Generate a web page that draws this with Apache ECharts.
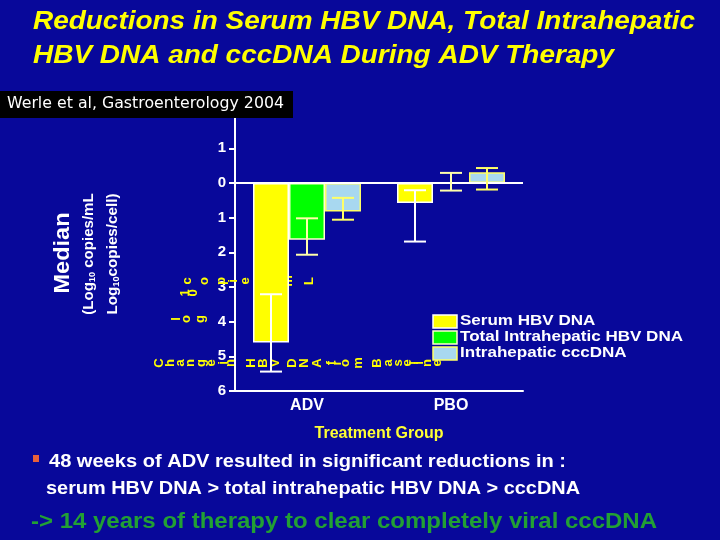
<!DOCTYPE html>
<html>
<head>
<meta charset="utf-8">
<script src="https://cdn.jsdelivr.net/npm/echarts@6/dist/echarts.min.js"></script>
<style>
html,body{margin:0;padding:0;background:#08089a;}
#chart{width:720px;height:540px;}
</style>
</head>
<body>
<div id="chart"></div>
<script>
// ---------- data ----------
const categories = ['ADV', 'PBO'];
const seriesNames = ['Serum HBV DNA', 'Total Intrahepatic HBV DNA', 'Intrahepatic cccDNA'];
const serumMedian = [-4.6, -0.58];
const serumLow = [-5.44, -1.69];
const serumHigh = [-3.21, -0.21];
const totalMedian = [-1.64, 0];
const totalLow = [-2.07, -0.22];
const totalHigh = [-1.02, 0.29];
const cccMedian = [-0.82, 0.31];
const cccLow = [-1.06, -0.19];
const cccHigh = [-0.43, 0.43];
const yMin = -6, yMax = 2, yStep = 1;

const titleLines = ['Reductions in Serum HBV DNA, Total Intrahepatic', 'HBV DNA and cccDNA During ADV Therapy'];
const citation = 'Werle et al, Gastroenterology 2004';
const bullet1 = '48 weeks of ADV resulted in significant reductions in :';
const bullet2 = 'serum HBV DNA > total intrahepatic HBV DNA > cccDNA';
const conclusion = '-> 14 years of therapy to clear completely viral cccDNA';

// ---------- styles ----------
const BG = '#08089a';
const FAM = '"Liberation Sans", Arial, sans-serif';
const barColors = ['#ffff00', '#00ff00', '#a8d8f0'];
const barBorders = ['#ffffff', '#ffffcc', '#ffff66'];
const errColors = ['#ffffff', '#ffffaa', '#ffff66'];
const BAR_W = 36;

const cv = document.createElement('canvas').getContext('2d');
function measure(text, font) { cv.font = font; return cv.measureText(text).width; }
function fitText(text, x, xEnd, yc, size, weight, style, family, color, z) {
  const font = style + ' ' + weight + ' ' + size + 'px ' + family;
  const w = measure(text, font);
  return { type: 'text', x: x, y: yc, scaleX: (xEnd - x) / w, z: z || 10,
    style: { text: text, font: font, fill: color, align: 'left', verticalAlign: 'middle' } };
}
function rotFit(text, xc, yc, len, size) {
  const font = 'bold ' + size + 'px ' + FAM;
  const w = measure(text, font);
  return { type: 'text', x: xc, y: yc, rotation: Math.PI / 2, scaleX: len / w, z: 10,
    style: { text: text, font: font, fill: '#ffffff', align: 'center', verticalAlign: 'middle' } };
}
// broken rotated-glyph annotation text
function rotChars(text, x0, x1, yc, size) {
  const font = 'bold ' + size + 'px ' + FAM;
  const widths = Array.from(text).map(ch => measure(ch, font));
  const total = widths.reduce((a, b) => a + b, 0);
  const k = (x1 - x0) / total;
  let pos = x0;
  const els = [];
  Array.from(text).forEach((ch, i) => {
    const adv = widths[i] * k;
    if (ch !== ' ') {
      els.push({ type: 'text', x: pos + adv / 2, y: yc, rotation: Math.PI / 2, z: 1,
        style: { text: ch, font: font, fill: '#ffff00', align: 'center', verticalAlign: 'middle' } });
    }
    pos += adv;
  });
  return els;
}

function errData(lo, hi) { return categories.map((c, i) => [i, lo[i], hi[i]]); }
function errSeries(idx, lo, hi) {
  return {
    type: 'custom', name: 'err' + idx, z: 5, silent: true,
    data: errData(lo, hi),
    encode: { x: 0, y: [1, 2] },
    renderItem: function (params, api) {
      const c = api.value(0);
      const p1 = api.coord([c, api.value(1)]);
      const p2 = api.coord([c, api.value(2)]);
      const x = p1[0] + (idx - 1) * BAR_W;
      const cap = 11;
      const st = { stroke: errColors[idx], lineWidth: 2 };
      return { type: 'group', children: [
        { type: 'line', shape: { x1: x, y1: p1[1], x2: x, y2: p2[1] }, style: st },
        { type: 'line', shape: { x1: x - cap, y1: p1[1], x2: x + cap, y2: p1[1] }, style: st },
        { type: 'line', shape: { x1: x - cap, y1: p2[1], x2: x + cap, y2: p2[1] }, style: st }
      ] };
    }
  };
}
function barSeries(idx, data) {
  return {
    type: 'bar', name: seriesNames[idx], data: data, barWidth: BAR_W, barGap: '0%', z: 3,
    itemStyle: { color: barColors[idx], borderColor: barBorders[idx], borderWidth: 1.5 }
  };
}

const graphics = [];
graphics.push(fitText(titleLines[0], 33, 695, 22, 26, 'bold', 'italic', FAM, '#ffff00'));
graphics.push(fitText(titleLines[1], 33, 614, 56, 26, 'bold', 'italic', FAM, '#ffff00'));
graphics.push({ type: 'rect', z: 50, shape: { x: 0, y: 91, width: 293, height: 27 }, style: { fill: '#000000' } });
graphics.push(Object.assign(fitText(citation, 7, 284, 104, 15, 'normal', 'normal', '"DejaVu Sans", sans-serif', '#ffffff'), { z: 51 }));
// y axis title
graphics.push(rotFit('Median', 63, 253, 81, 22));
const subRich = { sub: { fontSize: 9, fontWeight: 'bold', fontFamily: FAM, fill: '#ffffff', padding: [8, 0, 0, 0] } };
const lenA = 128;
function richLine(str, plain, xc) {
  const w = measure(plain, 'bold 15px ' + FAM);
  return { type: 'text', x: xc, y: 254, rotation: Math.PI / 2, scaleX: lenA / w, z: 10,
    style: { text: str, fontSize: 15, fontWeight: 'bold', fontFamily: FAM, fill: '#ffffff', align: 'center', verticalAlign: 'middle', rich: subRich } };
}
graphics.push(richLine('(Log{sub|10} copies/mL', '(Log10 copies/mL', 89));
graphics.push(richLine('Log{sub|10}copies/cell)', 'Log10copies/cell)', 113));
// garbled label
rotChars('copies/mL', 180, 318, 281, 13).forEach(e => graphics.push(e));
rotChars('10', 182, 197, 293, 13).forEach(e => graphics.push(e));
rotChars('log', 173, 208, 319, 13).forEach(e => graphics.push(e));
rotChars('Change in', 153, 236, 363, 13).forEach(e => graphics.push(e));
rotChars('HBV DNA from Baseline', 245, 442, 363, 13).forEach(e => graphics.push(e));
// legend (drawn manually to match stretched lettering)
const legScale = 223 / measure(seriesNames[1], 'bold 14px ' + FAM);
seriesNames.forEach((name, i) => {
  graphics.push({ type: 'rect', z: 20, shape: { x: 433, y: 315 + 16 * i, width: 24, height: 13 },
    style: { fill: barColors[i], stroke: barBorders[i], lineWidth: 1.5 } });
  graphics.push({ type: 'text', z: 20, x: 460, y: 321.5 + 16 * i, scaleX: legScale,
    style: { text: name, font: 'bold 14px ' + FAM, fill: '#ffffff', align: 'left', verticalAlign: 'middle' } });
});
// bullets
graphics.push({ type: 'rect', z: 10, shape: { x: 33, y: 455, width: 6, height: 7 }, style: { fill: '#e8603a' } });
graphics.push(fitText(bullet1, 49, 566, 462, 19, 'bold', 'normal', FAM, '#ffffff'));
graphics.push(fitText(bullet2, 46, 580, 489, 19, 'bold', 'normal', FAM, '#ffffff'));
graphics.push(fitText(conclusion, 31, 657, 522, 22, 'bold', 'normal', FAM, '#22a034'));

const chart = echarts.init(document.getElementById('chart'), null, { renderer: 'canvas' });
chart.setOption({
  backgroundColor: BG,
  animation: false,
  grid: { left: 235, right: 197, top: 113.6, bottom: 149, containLabel: false },
  xAxis: {
    type: 'category', data: categories,
    axisLine: { onZero: false, lineStyle: { color: '#ffffff', width: 2 } },
    axisTick: { show: false },
    axisLabel: { color: '#ffffff', fontWeight: 'bold', fontSize: 16, fontFamily: FAM, margin: 7 },
    name: 'Treatment Group', nameLocation: 'middle', nameGap: 35,
    nameTextStyle: { color: '#ffff33', fontWeight: 'bold', fontSize: 16, fontFamily: FAM }
  },
  yAxis: {
    type: 'value', min: yMin, max: yMax, interval: yStep,
    axisLine: { show: true, lineStyle: { color: '#ffffff', width: 2 } },
    axisTick: { show: true, inside: false, length: 6, lineStyle: { color: '#ffffff', width: 2 } },
    splitLine: { show: false },
    axisLabel: { color: '#ffffff', fontWeight: 'bold', fontSize: 15, fontFamily: FAM, margin: 9,
      formatter: v => (v === yMax ? '' : String(Math.abs(v))) }
  },
  series: [
    Object.assign(barSeries(0, serumMedian), {
      markLine: { silent: true, symbol: 'none', label: { show: false }, lineStyle: { color: '#ffffff', width: 2, type: 'solid' }, data: [{ yAxis: 0 }], z: 4 }
    }),
    barSeries(1, totalMedian),
    barSeries(2, cccMedian),
    errSeries(0, serumLow, serumHigh),
    errSeries(1, totalLow, totalHigh),
    errSeries(2, cccLow, cccHigh)
  ],
  graphic: { elements: graphics }
});
</script>
</body>
</html>
